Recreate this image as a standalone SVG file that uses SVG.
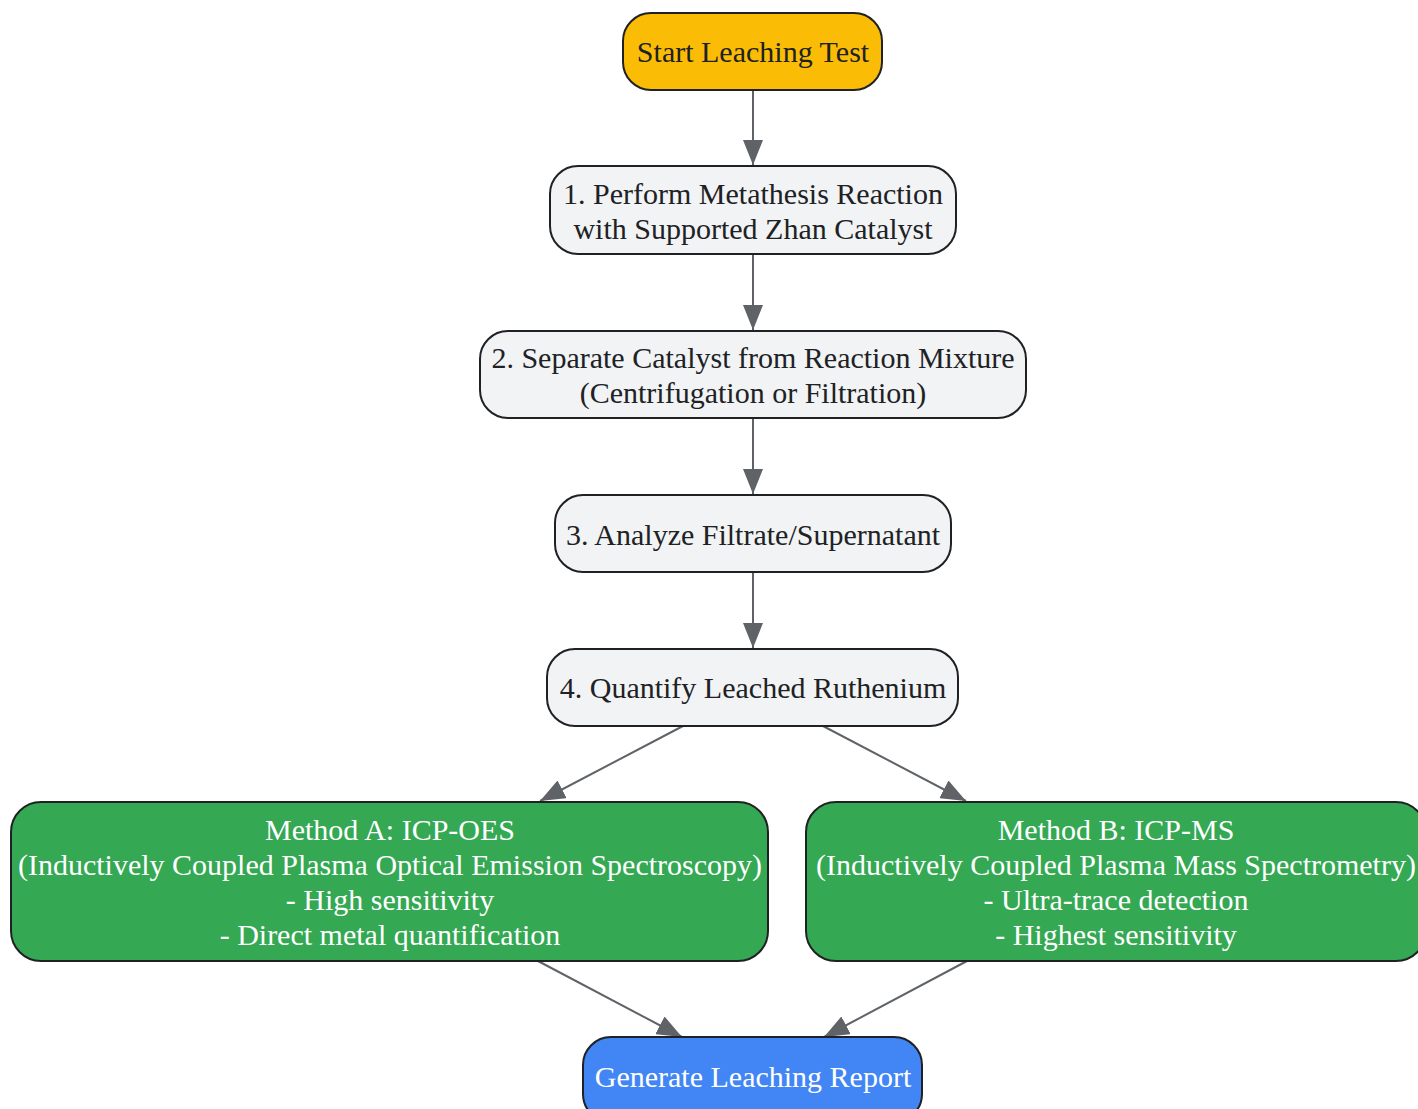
<svg xmlns="http://www.w3.org/2000/svg" width="1418" height="1109" viewBox="0 0 1418 1109">
<defs>
<marker id="arrow" markerUnits="userSpaceOnUse" markerWidth="26" markerHeight="20" refX="25" refY="10" orient="auto">
<path d="M0,0 L25,10 L0,20 Z" fill="#5f6368"/>
</marker>
<style>
.n{stroke:#202124;stroke-width:2}
.g{fill:#f1f3f4}
.t{font-family:"Liberation Serif","Times New Roman",serif;font-size:30px;text-anchor:middle;fill:#202124}
.w{fill:#ffffff}
.e{stroke:#5f6368;stroke-width:2;fill:none;marker-end:url(#arrow)}
</style>
</defs>
<rect width="1418" height="1109" fill="#ffffff"/>
<g id="connectors">
<path class="e" d="M753,90 L753,165"/>
<path class="e" d="M753,254 L753,330"/>
<path class="e" d="M753,418 L753,494"/>
<path class="e" d="M753,572 L753,648"/>
<path class="e" d="M683,726 L540,801"/>
<path class="e" d="M823,726 L966,801"/>
<path class="e" d="M538,961 L682,1037"/>
<path class="e" d="M967,961 L824,1037"/>
</g>
<g id="start">
<rect class="n" x="623" y="13" width="259" height="77" rx="28" fill="#fbbc05"/>
<text class="t" x="753" y="62">Start Leaching Test</text>
</g>
<g id="step1">
<rect class="n g" x="550" y="166" width="406" height="88" rx="28"/>
<text class="t" x="753" y="204">1. Perform Metathesis Reaction</text>
<text class="t" x="753" y="239">with Supported Zhan Catalyst</text>
</g>
<g id="step2">
<rect class="n g" x="480" y="331" width="546" height="87" rx="28"/>
<text class="t" x="753" y="368">2. Separate Catalyst from Reaction Mixture</text>
<text class="t" x="753" y="403">(Centrifugation or Filtration)</text>
</g>
<g id="step3">
<rect class="n g" x="555" y="495" width="396" height="77" rx="28"/>
<text class="t" x="753" y="545">3. Analyze Filtrate/Supernatant</text>
</g>
<g id="step4">
<rect class="n g" x="547" y="649" width="411" height="77" rx="28"/>
<text class="t" x="753" y="698">4. Quantify Leached Ruthenium</text>
</g>
<g id="methodA">
<rect class="n" x="11" y="802" width="757" height="159" rx="30" fill="#34a853"/>
<text class="t w" x="390" y="840">Method A: ICP-OES</text>
<text class="t w" x="390" y="875">(Inductively Coupled Plasma Optical Emission Spectroscopy)</text>
<text class="t w" x="390" y="910">- High sensitivity</text>
<text class="t w" x="390" y="945">- Direct metal quantification</text>
</g>
<g id="methodB">
<rect class="n" x="806" y="802" width="620" height="159" rx="30" fill="#34a853"/>
<text class="t w" x="1116" y="840">Method B: ICP-MS</text>
<text class="t w" x="1116" y="875">(Inductively Coupled Plasma Mass Spectrometry)</text>
<text class="t w" x="1116" y="910">- Ultra-trace detection</text>
<text class="t w" x="1116" y="945">- Highest sensitivity</text>
</g>
<g id="report">
<rect class="n" x="583" y="1037" width="339" height="85" rx="28" fill="#4285f4"/>
<text class="t w" x="753" y="1087">Generate Leaching Report</text>
</g>
</svg>
